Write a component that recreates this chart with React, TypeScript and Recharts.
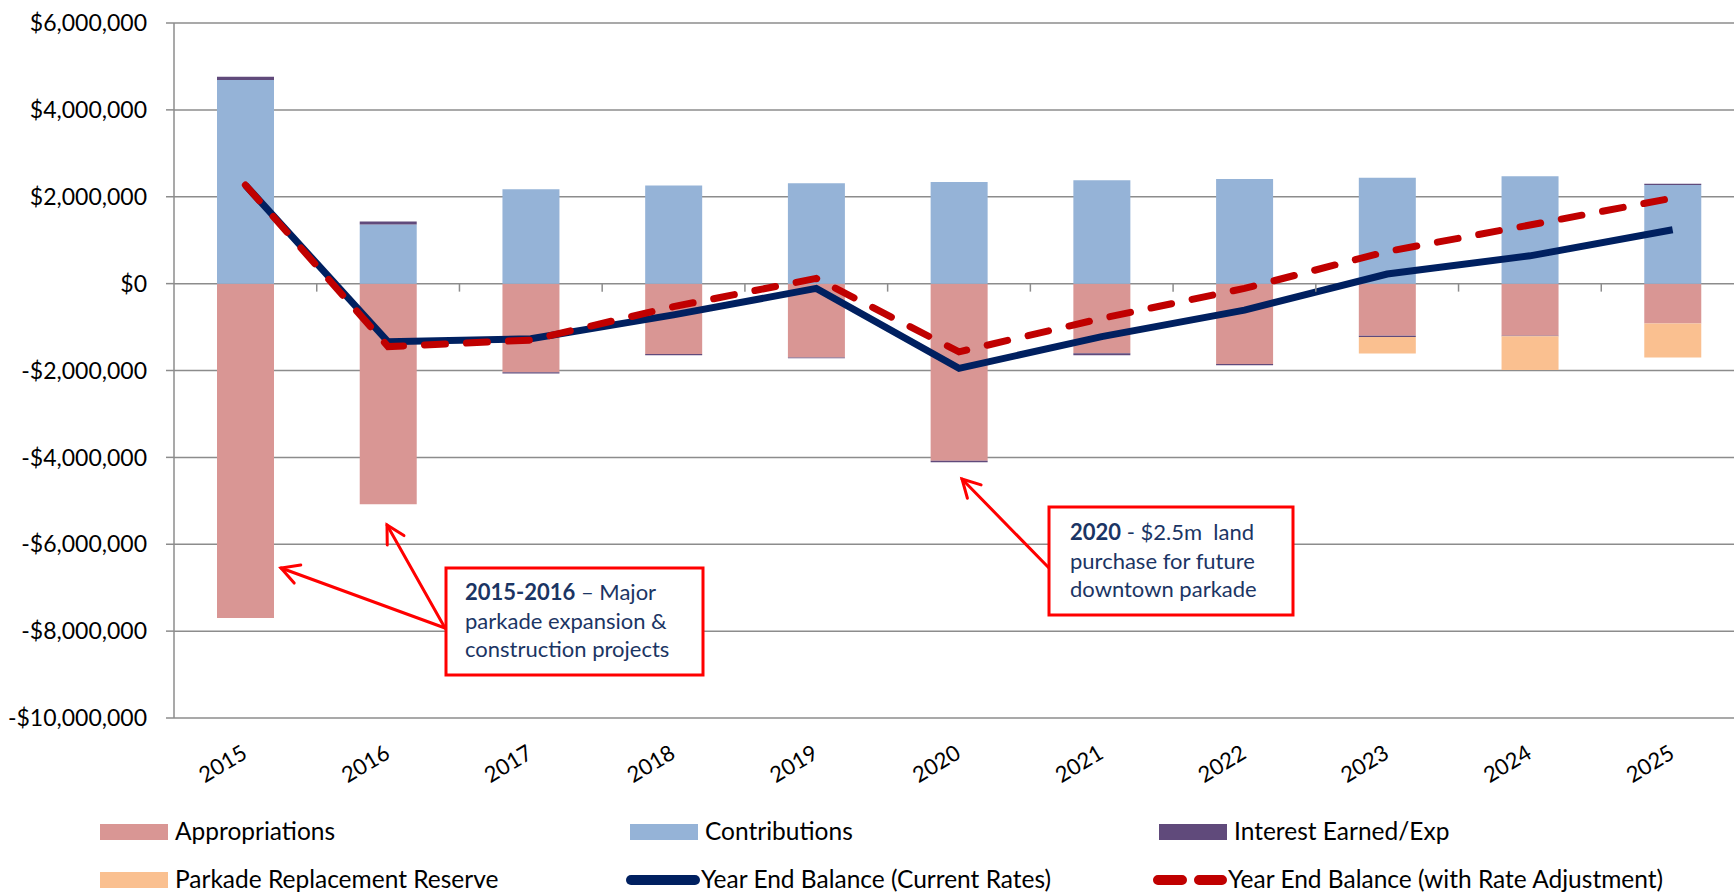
import React from "react";
import { ComposedChart, Bar, Line, XAxis, YAxis, CartesianGrid } from "recharts";

const years = ["2015", "2016", "2017", "2018", "2019", "2020", "2021", "2022", "2023", "2024", "2025"];
const appropriations = [-7700000, -5080000, -2040000, -1620000, -1700000, -4080000, -1600000, -1850000, -1200000, -1200000, -920000];
const contributions = [4690000, 1360000, 2170000, 2260000, 2310000, 2340000, 2380000, 2410000, 2440000, 2470000, 2270000];
const interest = [70000, 70000, -30000, -30000, -20000, -30000, -50000, -30000, -30000, -10000, 30000];
const reserve = [0, 0, 0, 0, 0, 0, 0, 0, -380000, -780000, -780000];
const balanceCurrent = [2270000, -1340000, -1270000, -720000, -110000, -1950000, -1220000, -610000, 220000, 640000, 1240000];
const balanceAdjusted = [2270000, -1450000, -1300000, -530000, 120000, -1570000, -800000, -110000, 740000, 1350000, 1970000];
const yTicks = [-10000000, -8000000, -6000000, -4000000, -2000000, 0, 2000000, 4000000, 6000000];

const data = years.map((year, i) => ({
  year,
  appropriations: appropriations[i],
  contributions: contributions[i],
  interest: interest[i],
  reserve: reserve[i],
  current: balanceCurrent[i],
  adjusted: balanceAdjusted[i],
}));

const FONT = "Lato, 'Open Sans', sans-serif";
const GRID = "#8c8c8c";
const NAVY_TEXT = "#1b3564";

const CHART_W = 1760;
const CHART_H = 893;
const MARGIN = { top: 23, right: 16, bottom: 0, left: 0 };
const Y_AXIS_W = 174;
const X_AXIS_H = 175;
const PLOT_W = CHART_W - MARGIN.left - MARGIN.right - Y_AXIS_W;
const PLOT_H = CHART_H - MARGIN.top - MARGIN.bottom - X_AXIS_H;
const Y_MIN = yTicks[0];
const Y_MAX = yTicks[yTicks.length - 1];
const ZERO_Y = MARGIN.top + (PLOT_H * Y_MAX) / (Y_MAX - Y_MIN);
const STEP = PLOT_W / years.length;

const money = (v: number) => (v < 0 ? "-$" : "$") + Math.abs(v).toLocaleString("en-US");

// year labels sit low and tilted; the little category ticks sit on the $0 line
const YearTick = (props: any) => {
  const { x, y, payload } = props;
  const cx = x - 23;
  const cy = y + 45;
  return (
    <g>
      <line x1={x + STEP / 2} x2={x + STEP / 2} y1={ZERO_Y} y2={ZERO_Y + 8} stroke={GRID} strokeWidth={1.5} />
      <text
        x={cx}
        y={cy}
        transform={`rotate(-31, ${cx}, ${cy})`}
        textAnchor="middle"
        dominantBaseline="central"
        fontFamily={FONT}
        fontSize={22}
        fill="#000"
      >
        {payload.value}
      </text>
    </g>
  );
};

const Arrow = ({ x1, y1, x2, y2 }: { x1: number; y1: number; x2: number; y2: number }) => {
  const a = Math.atan2(y2 - y1, x2 - x1);
  const len = 20;
  const spread = 0.5;
  const p1 = [x2 - len * Math.cos(a - spread), y2 - len * Math.sin(a - spread)];
  const p2 = [x2 - len * Math.cos(a + spread), y2 - len * Math.sin(a + spread)];
  return (
    <g stroke="#ff0000" strokeWidth={3} fill="none" strokeLinecap="round">
      <line x1={x1} y1={y1} x2={x2} y2={y2} />
      <polyline points={`${p1[0]},${p1[1]} ${x2},${y2} ${p2[0]},${p2[1]}`} />
    </g>
  );
};

const legendRows = [
  [
    { label: "Appropriations", kind: "box", color: "#D99694", x: 100 },
    { label: "Contributions", kind: "box", color: "#95B3D7", x: 630 },
    { label: "Interest Earned/Exp", kind: "box", color: "#604A7B", x: 1159 },
  ],
  [
    { label: "Parkade Replacement Reserve", kind: "box", color: "#FAC090", x: 100 },
    { label: "Year End Balance (Current Rates)", kind: "line", color: "#002060", x: 626 },
    { label: "Year End Balance (with Rate Adjustment)", kind: "dash", color: "#C00000", x: 1153 },
  ],
];
const legendY = [832, 880];

export default function App() {
  return (
    <div style={{ position: "relative", width: 1734, height: 893, overflow: "hidden", background: "#fff" }}>
      <style>{`body{margin:0;overflow:hidden;}`}</style>
      <ComposedChart width={CHART_W} height={CHART_H} data={data} margin={MARGIN} stackOffset="sign">
        <CartesianGrid vertical={false} stroke={GRID} strokeWidth={1.5} />
        <XAxis
          dataKey="year"
          height={X_AXIS_H}
          axisLine={false}
          tickLine={false}
          tickSize={0}
          tickMargin={0}
          interval={0}
          tick={(p: any) => <YearTick {...p} />}
        />
        <YAxis
          type="number"
          domain={[Y_MIN, Y_MAX]}
          ticks={yTicks}
          interval={0}
          width={Y_AXIS_W}
          tickSize={8}
          tickMargin={19}
          tickFormatter={money}
          axisLine={{ stroke: GRID, strokeWidth: 1.5 }}
          tickLine={{ stroke: GRID, strokeWidth: 1.5 }}
          tick={{ fill: "#000", fontSize: 23, fontFamily: FONT }}
        />
        <Bar dataKey="appropriations" stackId="a" fill="#D99694" barSize={57} isAnimationActive={false} />
        <Bar dataKey="contributions" stackId="a" fill="#95B3D7" barSize={57} isAnimationActive={false} />
        <Bar dataKey="interest" stackId="a" fill="#604A7B" barSize={57} isAnimationActive={false} />
        <Bar dataKey="reserve" stackId="a" fill="#FAC090" barSize={57} isAnimationActive={false} />
        <Line type="linear" dataKey="current" stroke="#002060" strokeWidth={7} dot={false} isAnimationActive={false} />
        <Line
          type="linear"
          dataKey="adjusted"
          stroke="#C00000"
          strokeWidth={7}
          strokeDasharray="21 21"
          strokeLinecap="round"
          dot={false}
          isAnimationActive={false}
        />
      </ComposedChart>

      <svg width={1734} height={893} style={{ position: "absolute", left: 0, top: 0, pointerEvents: "none" }}>
        {/* annotation: 2015-2016 */}
        <Arrow x1={445} y1={628} x2={281} y2={568} />
        <Arrow x1={445} y1={628} x2={387} y2={525} />
        <rect x={446} y={568} width={257} height={107} fill="#fff" stroke="#ff0000" strokeWidth={3} />
        <text fontFamily={FONT} fontSize={22} fill={NAVY_TEXT}>
          <tspan x={465} y={600}>
            <tspan fontWeight="bold">2015-2016</tspan> – Major
          </tspan>
          <tspan x={465} y={629}>parkade expansion &amp;</tspan>
          <tspan x={465} y={657}>construction projects</tspan>
        </text>

        {/* annotation: 2020 */}
        <Arrow x1={1049} y1={568} x2={962} y2={479} />
        <rect x={1049} y={507} width={244} height={108} fill="#fff" stroke="#ff0000" strokeWidth={3} />
        <text fontFamily={FONT} fontSize={22} fill={NAVY_TEXT} style={{ whiteSpace: "pre" }}>
          <tspan x={1070} y={540}>
            <tspan fontWeight="bold">2020</tspan>{" - $2.5m  land"}
          </tspan>
          <tspan x={1070} y={569}>purchase for future</tspan>
          <tspan x={1070} y={597}>downtown parkade</tspan>
        </text>

        {/* legend */}
        {legendRows.map((row, r) =>
          row.map((item) => {
            const cy = legendY[r];
            return (
              <g key={item.label}>
                {item.kind === "box" && <rect x={item.x} y={cy - 8} width={68} height={16} fill={item.color} />}
                {item.kind === "line" && (
                  <line x1={item.x + 5} x2={item.x + 69} y1={cy} y2={cy} stroke={item.color} strokeWidth={10} strokeLinecap="round" />
                )}
                {item.kind === "dash" && (
                  <line
                    x1={item.x + 5}
                    x2={item.x + 69}
                    y1={cy}
                    y2={cy}
                    stroke={item.color}
                    strokeWidth={10}
                    strokeLinecap="round"
                    strokeDasharray="24 17"
                  />
                )}
                <text x={item.x + 75} y={cy + 8} fontFamily={FONT} fontSize={24.5} fill="#000">
                  {item.label}
                </text>
              </g>
            );
          })
        )}
      </svg>
    </div>
  );
}
